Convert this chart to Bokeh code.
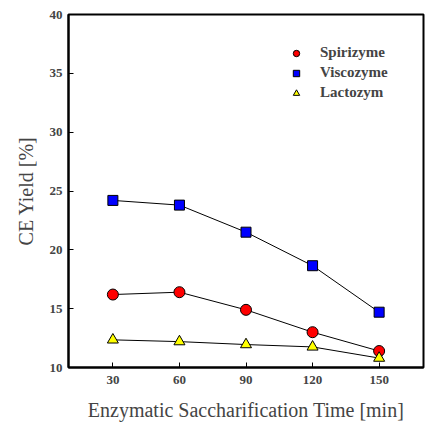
from bokeh.plotting import figure
from bokeh.models import Legend, LegendItem, Range1d, FixedTicker
from bokeh.embed import file_html
from bokeh.resources import INLINE

times = [30, 60, 90, 120, 150]
spirizyme = [16.2, 16.4, 14.9, 13.0, 11.4]
viscozyme = [24.2, 23.8, 21.5, 18.65, 14.7]
lactozym = [12.35, 12.2, 11.95, 11.75, 10.8]

FONT = "Liberation Serif"

p = figure(width=425, height=423, output_backend="svg", toolbar_location=None,
           x_range=Range1d(10, 170), y_range=Range1d(10, 40),
           min_border_left=68, min_border_right=2, min_border_top=14, min_border_bottom=56)
p.grid.visible = False
p.outline_line_color = "black"
p.outline_line_width = 2
p.background_fill_color = "white"

for ax in (p.xaxis[0], p.yaxis[0]):
    ax.axis_line_width = 2
    ax.major_tick_in = 5
    ax.major_tick_out = 0
    ax.minor_tick_line_color = None
    ax.major_label_text_font = FONT
    ax.major_label_text_font_style = "bold"
    ax.major_label_text_font_size = "13px"
    ax.axis_label_text_font = FONT
    ax.axis_label_text_font_style = "normal"
    ax.axis_label_text_font_size = "20px"

p.xaxis.ticker = FixedTicker(ticks=times)
p.yaxis.ticker = FixedTicker(ticks=[10, 15, 20, 25, 30, 35, 40])
p.xaxis.axis_label = "Enzymatic Saccharification Time [min]"
p.yaxis.axis_label = "CE Yield [%]"
p.xaxis.major_label_standoff = 8
p.xaxis.axis_label_standoff = 12
p.yaxis.major_label_standoff = 6
p.yaxis.axis_label_standoff = 10

l1 = p.line(times, spirizyme, line_color="black", line_width=1)
l2 = p.line(times, viscozyme, line_color="black", line_width=1)
l3 = p.line(times, lactozym, line_color="black", line_width=1)
s1 = p.scatter(times, spirizyme, marker="circle", size=11, fill_color="red", line_color="black", line_width=1)
s2 = p.scatter(times, viscozyme, marker="square", size=10, fill_color="blue", line_color="black", line_width=1)
s3 = p.scatter(times, lactozym, marker="triangle", size=11, fill_color="yellow", line_color="black", line_width=1)

legend = Legend(items=[LegendItem(label="Spirizyme", renderers=[s1]),
                       LegendItem(label="Viscozyme", renderers=[s2]),
                       LegendItem(label="Lactozym", renderers=[s3])],
                location=(218, 266))
legend.border_line_color = None
legend.background_fill_alpha = 0
legend.label_text_font = FONT
legend.label_text_font_style = "bold"
legend.label_text_font_size = "15px"
legend.glyph_width = 20
legend.glyph_height = 16
legend.label_height = 16
legend.label_standoff = 14
legend.spacing = 3
legend.padding = 0
legend.margin = 0
p.add_layout(legend, "center")

open("out.html", "w").write(file_html(p, INLINE))
